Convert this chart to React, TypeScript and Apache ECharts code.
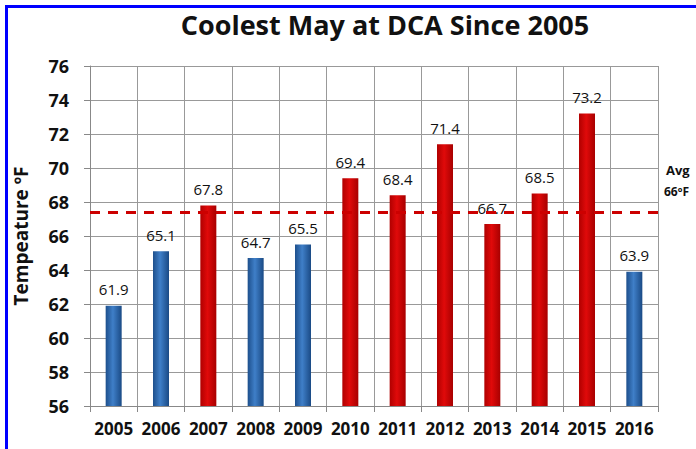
import React, { useEffect, useRef } from "react";
import * as echarts from "echarts";

const years = ["2005", "2006", "2007", "2008", "2009", "2010", "2011", "2012", "2013", "2014", "2015", "2016"];
const temps = [61.9, 65.1, 67.8, 64.7, 65.5, 69.4, 68.4, 71.4, 66.7, 68.5, 73.2, 63.9];
const isWarm = [false, false, true, false, false, true, true, true, true, true, true, false];
const avgValue = 67.4;
const yMin = 56;
const yMax = 76;

const FONT = "'Open Sans', Lato, sans-serif";

const blueGrad = new echarts.graphic.LinearGradient(0, 0, 1, 0, [
  { offset: 0, color: "#1d4f8c" },
  { offset: 0.45, color: "#3f7fc8" },
  { offset: 1, color: "#1a4a85" },
]);
const redGrad = new echarts.graphic.LinearGradient(0, 0, 1, 0, [
  { offset: 0, color: "#b00000" },
  { offset: 0.45, color: "#e00a0a" },
  { offset: 1, color: "#a80000" },
]);

export default function App() {
  const ref = useRef<HTMLDivElement>(null);
  useEffect(() => {
    document.body.style.margin = "0";
    const chart = echarts.init(ref.current!, null, { renderer: "svg" });
    chart.setOption({
      animation: false,
      backgroundColor: "#ffffff",
      title: {
        text: "Coolest May at DCA Since 2005",
        left: 380,
        top: 6,
        textAlign: "center",
        textStyle: { fontFamily: FONT, fontWeight: "bold", fontSize: 27, color: "#111" },
      },
      grid: { left: 90, right: 38, top: 66, bottom: 43 },
      xAxis: {
        type: "category",
        data: years,
        axisLine: { show: true, lineStyle: { color: "#888", width: 1 } },
        axisTick: { show: true, interval: 0, alignWithLabel: false, length: 6, lineStyle: { color: "#888" } },
        axisLabel: { interval: 0, fontFamily: FONT, fontWeight: "bold", fontSize: 17, color: "#111", margin: 14 },
        splitLine: { show: true, interval: 0, lineStyle: { color: "#999", width: 1 } },
      },
      yAxis: {
        type: "value",
        min: yMin,
        max: yMax,
        interval: 2,
        name: "Tempeature ºF",
        nameLocation: "middle",
        nameGap: 60,
        nameTextStyle: { fontFamily: FONT, fontWeight: "bold", fontSize: 19, color: "#111" },
        axisLine: { show: true, lineStyle: { color: "#888" } },
        axisTick: { show: true, length: 6, lineStyle: { color: "#888" } },
        axisLabel: { fontFamily: FONT, fontWeight: "bold", fontSize: 18, color: "#111", margin: 21 },
        splitLine: { show: true, lineStyle: { color: "#999", width: 1 } },
      },
      series: [
        {
          type: "bar",
          barWidth: 16,
          data: temps.map((v, i) => ({
            value: v,
            itemStyle: { color: isWarm[i] ? redGrad : blueGrad },
          })),
          label: {
            show: true,
            position: "top",
            distance: 9,
            fontFamily: FONT,
            fontSize: 15,
            color: "#111",
            formatter: (p: any) => p.value.toFixed(1),
          },
          markLine: {
            silent: true,
            symbol: "none",
            label: { show: false },
            lineStyle: { color: "#cc0000", type: [10, 8], width: 3 },
            data: [{ yAxis: avgValue }],
          },
        },
      ],
      graphic: [
        {
          type: "rect",
          shape: { x: 6.5, y: 6.5, width: 720, height: 460 },
          style: { fill: "none", stroke: "#0000ff", lineWidth: 3 },
          z: 100,
        },
        {
          type: "text",
          left: 666,
          top: 163,
          style: { text: "Avg", fontFamily: FONT, fontWeight: "bold", fontSize: 13, fill: "#111" },
        },
        {
          type: "text",
          left: 664,
          top: 185,
          style: { text: "66ºF", fontFamily: FONT, fontWeight: "bold", fontSize: 12, fill: "#111" },
        },
      ],
    });
    return () => chart.dispose();
  }, []);
  return <div ref={ref} style={{ position: "absolute", left: 0, top: 0, width: 696, height: 449 }} />;
}
